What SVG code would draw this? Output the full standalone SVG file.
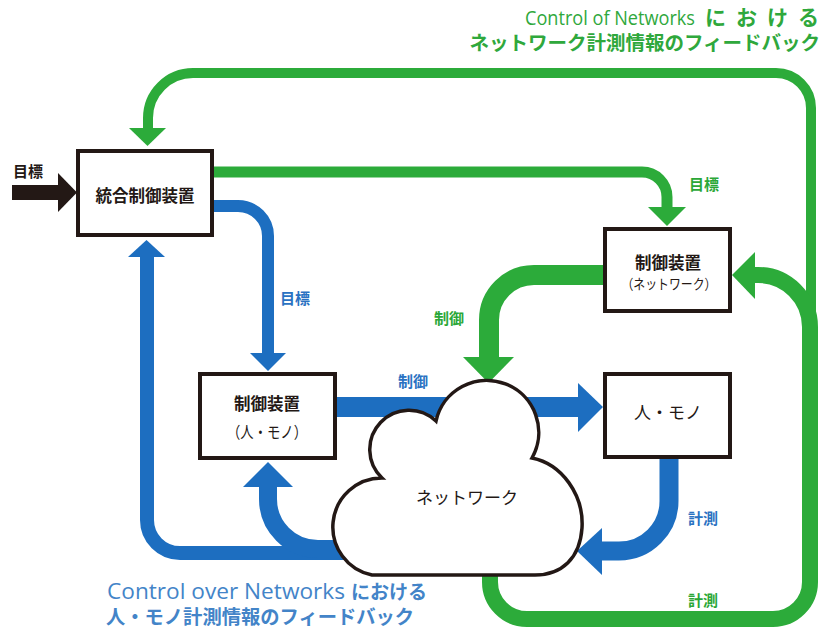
<svg xmlns="http://www.w3.org/2000/svg" width="823" height="632" viewBox="0 0 823 632">
<style>
.t{font-family:"Noto Sans CJK JP","Noto Sans",sans-serif;fill:#231815}
.b{font-weight:700}
.lg{font-family:"Noto Sans CJK JP","Noto Sans",sans-serif;font-weight:700;font-size:15px;fill:#2aa737}
.lb{font-family:"Noto Sans CJK JP","Noto Sans",sans-serif;font-weight:700;font-size:15px;fill:#2a72c2}
.box{fill:#fff;stroke:#231815;stroke-width:4}
.g{fill:none;stroke:#2cab3a}
.bl{fill:none;stroke:#1d6ec0}
.gh{fill:#2cab3a}
.bh{fill:#1d6ec0}
.tg{font-family:"Open Sans","Noto Sans CJK JP",sans-serif;fill:#2fa83c}
.tb{font-family:"Open Sans","Noto Sans CJK JP",sans-serif;fill:#4384c8}
.jp{font-family:"Noto Sans CJK JP",sans-serif;font-weight:700}
</style>
<rect width="823" height="632" fill="#fff"/>
<g id="connectors">
  <path class="g" stroke-width="10" d="M811 330 L811 108 A35 35 0 0 0 776 73 L193 73 A45 45 0 0 0 148 118 L148 129"/>
  <polygon class="gh" points="129,128 166,128 147.5,146"/>
  <path class="g" stroke-width="16" d="M490 540 L490 582 A37 37 0 0 0 527 619 L773 619 A37 37 0 0 0 810 582 L810 327 A52 52 0 0 0 758 275 L752 275"/>
  <polygon class="gh" points="755,252 755,299 732,275"/>
  <path class="g" stroke-width="11" d="M212 172 L642 172 A25 25 0 0 1 667 197 L667 208"/>
  <polygon class="gh" points="648,207 686,207 667,226"/>
  <path class="g" stroke-width="20" d="M604 275 L534 275 A45 45 0 0 0 489 320 L489 358"/>
  <polygon class="gh" points="463,357 514,357 488.5,383"/>
  <path class="bl" stroke-width="12" d="M212 206 L238 206 A30 30 0 0 1 268 236 L268 354"/>
  <polygon class="bh" points="250,353 286,353 268,371"/>
  <path class="bl" stroke-width="20" d="M336 407 L580 407"/>
  <polygon class="bh" points="578,383 578,432 603,407"/>
  <path class="bl" stroke-width="19" d="M669 457 L669 501 A50 50 0 0 1 619 551 L600 551"/>
  <polygon class="bh" points="602,528 602,575 577,551"/>
  <path class="bl" stroke-width="14" d="M380 553 L180 553 A33 33 0 0 1 147 520 L147 256"/>
  <polygon class="bh" points="128,257 165,257 146.5,240"/>
  <path class="bl" stroke-width="18" d="M380 549 L318 549 A50 50 0 0 1 268 499 L268 486"/>
  <polygon class="bh" points="243,487 293,487 268,462"/>
  <rect x="12" y="185" width="48" height="15" fill="#231815"/>
  <polygon points="58,173 58,212 77,192.5" fill="#231815"/>
</g>
<g id="labels">
  <text class="t b" x="13" y="177" font-size="15">目標</text>
  <text class="lg" x="689" y="190">目標</text>
  <text class="lb" x="280" y="304">目標</text>
  <text class="lg" x="434" y="324">制御</text>
  <text class="lb" x="398" y="387">制御</text>
  <text class="lb" x="688" y="524">計測</text>
  <text class="lg" x="688" y="606">計測</text>
</g>
<g id="node-main">
  <rect class="box" x="78" y="151" width="134" height="84"/>
  <text class="t b" x="145" y="202" font-size="16.5" text-anchor="middle">統合制御装置</text>
</g>
<g id="node-controller">
  <rect class="box" x="200" y="374" width="135" height="84"/>
  <text class="t b" x="267" y="410" font-size="16.5" text-anchor="middle">制御装置</text>
  <text class="t" x="267" y="438" font-size="16" text-anchor="middle" textLength="80" lengthAdjust="spacingAndGlyphs">（人・モノ）</text>
</g>
<g id="node-people">
  <rect class="box" x="605" y="374" width="125" height="83"/>
  <text class="t" x="668" y="419" font-size="17" text-anchor="middle">人・モノ</text>
</g>
<g id="node-netcontroller">
  <rect class="box" x="605" y="229" width="125" height="82"/>
  <text class="t b" x="668" y="269" font-size="16.5" text-anchor="middle">制御装置</text>
  <text class="t" x="669" y="289" font-size="14" text-anchor="middle" textLength="95" lengthAdjust="spacingAndGlyphs">（ネットワーク）</text>
</g>
<g id="node-network">
  <path d="M372 575 A49 49 0 0 1 382 478 A38 38 0 0 1 436 421 A52 52 0 1 1 532 458 C562 464 584 495 582 528 C580 558 562 575 535 575 Z" fill="#fff" stroke="#231815" stroke-width="3.5"/>
  <text class="t" x="467" y="504" font-size="17" text-anchor="middle">ネットワーク</text>
</g>
<g id="titles">
  <text class="tg" x="525" y="25" font-size="20.5" textLength="170" lengthAdjust="spacingAndGlyphs">Control of Networks</text>
  <text class="tg jp" x="705" y="25" font-size="21" textLength="114">における</text>
  <text class="tg jp" x="820" y="50" font-size="19.5" text-anchor="end">ネットワーク計測情報のフィードバック</text>
  <text class="tb" x="107" y="599" font-size="21.5" textLength="238" lengthAdjust="spacingAndGlyphs">Control over Networks</text>
  <text class="tb jp" x="351" y="599" font-size="19">における</text>
  <text class="tb jp" x="106" y="624" font-size="19.3">人・モノ計測情報のフィードバック</text>
</g>
</svg>
